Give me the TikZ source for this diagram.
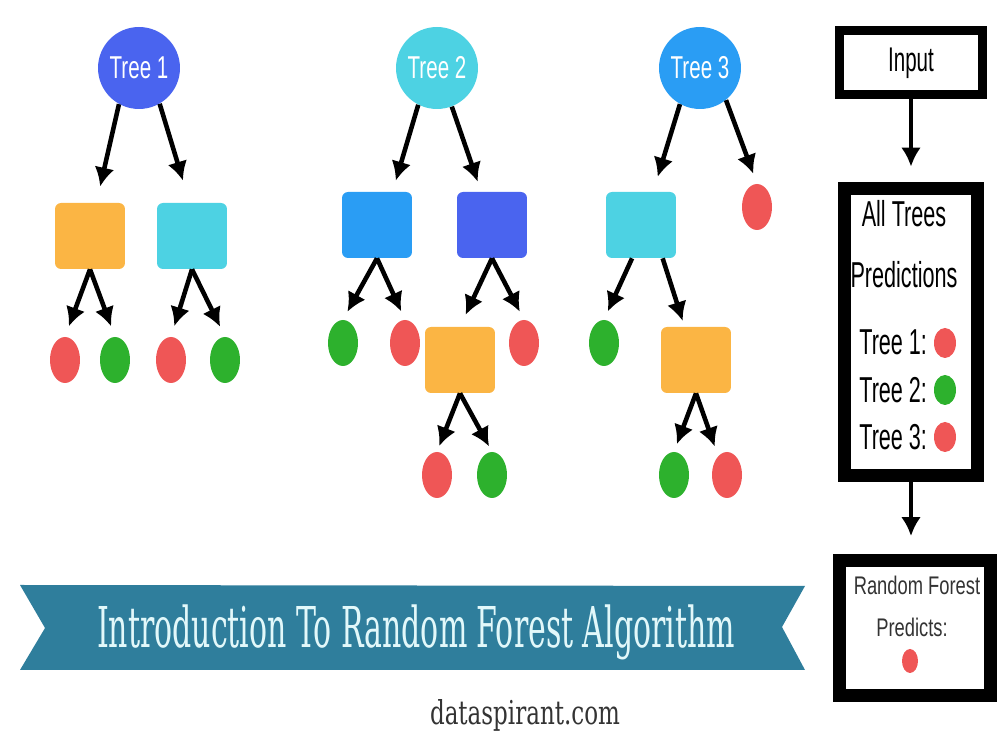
\documentclass[tikz,border=0pt]{standalone}
\usepackage{graphicx}
\usepackage{fontspec}
\setmainfont{Liberation Sans}
\newfontfamily\narrowfont[FakeStretch=0.65]{Liberation Sans}
\newfontfamily\votefont[FakeStretch=0.6]{Liberation Sans}
\newfontfamily\rffont[FakeStretch=0.72]{Liberation Sans}
\newfontfamily\slabfont{DejaVu Serif Condensed}
\usetikzlibrary{shapes.geometric,arrows.meta}
\definecolor{royal}{HTML}{4A64EF}
\definecolor{aqua}{HTML}{4DD2E3}
\definecolor{sky}{HTML}{2A9DF4}
\definecolor{amber}{HTML}{FBB544}
\definecolor{leafred}{HTML}{EF5656}
\definecolor{leafgreen}{HTML}{2DB12D}
\definecolor{ribbon}{HTML}{2F7E9C}
\definecolor{ribbontext}{HTML}{E2F8FA}
\definecolor{ink}{HTML}{333333}
\tikzset{>={Latex[length=3.8mm,width=4mm]}}
\tikzset{
  root/.style = {circle, minimum size=1.64cm, inner sep=0pt, text=white,
    font=\narrowfont\fontsize{18}{20}\selectfont},
  splitbox/.style = {rectangle, rounded corners=0.12cm, minimum width=1.4cm,
    minimum height=1.32cm},
  leaf/.style = {ellipse, minimum width=0.6cm, minimum height=0.92cm, inner sep=0pt},
  dot/.style = {ellipse, minimum width=0.44cm, minimum height=0.6cm, inner sep=0pt},
  arr/.style = {->, line width=2.6pt, shorten >=0.22cm},
  outline/.style = {draw, rectangle, line width=0.26cm, inner sep=0pt},
  txt/.style = {anchor=base, inner sep=0pt, font=\votefont\fontsize{20.5}{24}\selectfont}
}

\begin{document}
\begin{tikzpicture}[x=0.02cm,y=-0.02cm]
    \useasboundingbox (0,0) rectangle (1002,732);
    % tree 1
    \node[root, fill=royal] (t1) at (139,68) {Tree 1};
    \node[splitbox, fill=amber] (b11) at (90,236) {};
    \node[splitbox, fill=aqua] (b12) at (192,236) {};
    \node[leaf, fill=leafred] (l11) at (65,360) {};
    \node[leaf, fill=leafgreen] (l12) at (115,360) {};
    \node[leaf, fill=leafred] (l13) at (171,360) {};
    \node[leaf, fill=leafgreen] (l14) at (225,360) {};
    \draw[arr, shorten >=0.33cm] (t1.241) -- (b11.79);
    \draw[arr, shorten >=0.46cm] (t1.300) -- (b12.94);
    \draw[arr] (b11.south) -- (l11.north);
    \draw[arr] (b11.south) -- (l12.north);
    \draw[arr] (b12.south) -- (l13.north);
    \draw[arr] (b12.south) -- (l14.north);

    % tree 2
    \node[root, fill=aqua] (t2) at (437,68) {Tree 2};
    \node[splitbox, fill=sky] (b21) at (377,225) {};
    \node[splitbox, fill=royal] (b22) at (492,225) {};
    \node[splitbox, fill=amber] (b23) at (460,360) {};
    \node[leaf, fill=leafgreen] (l21) at (343,343) {};
    \node[leaf, fill=leafred] (l22) at (405,343) {};
    \node[leaf, fill=leafred] (l23) at (524,343) {};
    \node[leaf, fill=leafred] (l24) at (437,475) {};
    \node[leaf, fill=leafgreen] (l25) at (492,475) {};
    \draw[arr, shorten >=0.23cm] (t2.243) -- (b21.65);
    \draw[arr, shorten >=0.21cm] (t2.291) -- (b22.108);
    \draw[arr, shorten >=0.18cm] (b21.south) -- (l21.north);
    \draw[arr, shorten >=0.18cm] (b21.south) -- (l22.north);
    \draw[arr, shorten >=0.26cm] (b22.south) -- (b23.north);
    \draw[arr, shorten >=0.18cm] (b22.south) -- (l23.north);
    \draw[arr, shorten >=0.12cm] (b23.south) -- (l24.north);
    \draw[arr, shorten >=0.12cm] (b23.south) -- (l25.north);

    % tree 3
    \node[root, fill=sky] (t3) at (700,68) {Tree 3};
    \node[splitbox, fill=aqua] (b31) at (641,225) {};
    \node[splitbox, fill=amber] (b32) at (696,360) {};
    \node[leaf, fill=leafred] (l31) at (757,207) {};
    \node[leaf, fill=leafgreen] (l32) at (604,343) {};
    \node[leaf, fill=leafgreen] (l33) at (674,475) {};
    \node[leaf, fill=leafred] (l34) at (727,475) {};
    \draw[arr, shorten >=0.31cm] (t3.241) -- (b31.70);
    \draw[arr, shorten >=0.21cm] (t3.309) -- (l31.north);
    \draw[arr, shorten >=0.18cm] (b31.255) -- (l32.north);
    \draw[arr, shorten >=0.12cm] (b31.303) -- (b32.109);
    \draw[arr, shorten >=0.16cm] (b32.south) -- (l33.north);
    \draw[arr, shorten >=0.2cm] (b32.south) -- (l34.115);

    % voting column
    \node[outline, line width=0.18cm, minimum width=2.86cm, minimum height=1.28cm,
      font=\votefont\fontsize{19.5}{22}\selectfont] (inp) at (911,63) {Input};
    \node[outline, minimum width=2.68cm, minimum height=5.74cm] (pred) at (911,332) {};
    \node[outline, minimum width=3.02cm, minimum height=2.72cm] (rf) at (915,628) {};
    \node[txt] (all) at (904,227) {All Trees};
    \node[txt] (preds) at (904,288) {Predictions};
    \node[txt, anchor=base west] (v1) at (859,355) {Tree 1:};
    \node[txt, anchor=base west] (v2) at (859,403) {Tree 2:};
    \node[txt, anchor=base west] (v3) at (859,450) {Tree 3:};
    \node[dot, fill=leafred] (d1) at (945,343) {};
    \node[dot, fill=leafgreen] (d2) at (945,390) {};
    \node[dot, fill=leafred] (d3) at (945,437) {};
    \node[txt, text=ink, font=\rffont\fontsize{14.5}{16}\selectfont] (rf1) at (917,595) {Random Forest};
    \node[txt, text=ink, font=\rffont\fontsize{14.5}{16}\selectfont] (rf2) at (912,637) {Predicts:};
    \node[dot, fill=leafred, minimum width=0.32cm, minimum height=0.48cm] (rfdot) at (910,661) {};
    \draw[arr, shorten >=0.31cm] (inp.south) -- (pred.north);
    \draw[arr, shorten >=0.35cm] (pred.south) -- (pred.south |- rf.north);

    % ribbon
    \fill[ribbon] (20,585) -- (805,586) -- (782,627) -- (805,670) -- (20,670) -- (45,628) -- cycle;
    \node[anchor=base, inner sep=0pt, text=ribbontext] (title) at (416,648)
      {\resizebox{12.76cm}{0.855cm}{\slabfont Introduction To Random Forest Algorithm}};
    \node[anchor=base, inner sep=0pt, text=ink] (site) at (525,725)
      {\resizebox{3.8cm}{0.5cm}{\slabfont dataspirant.com}};
\end{tikzpicture}
\end{document}
